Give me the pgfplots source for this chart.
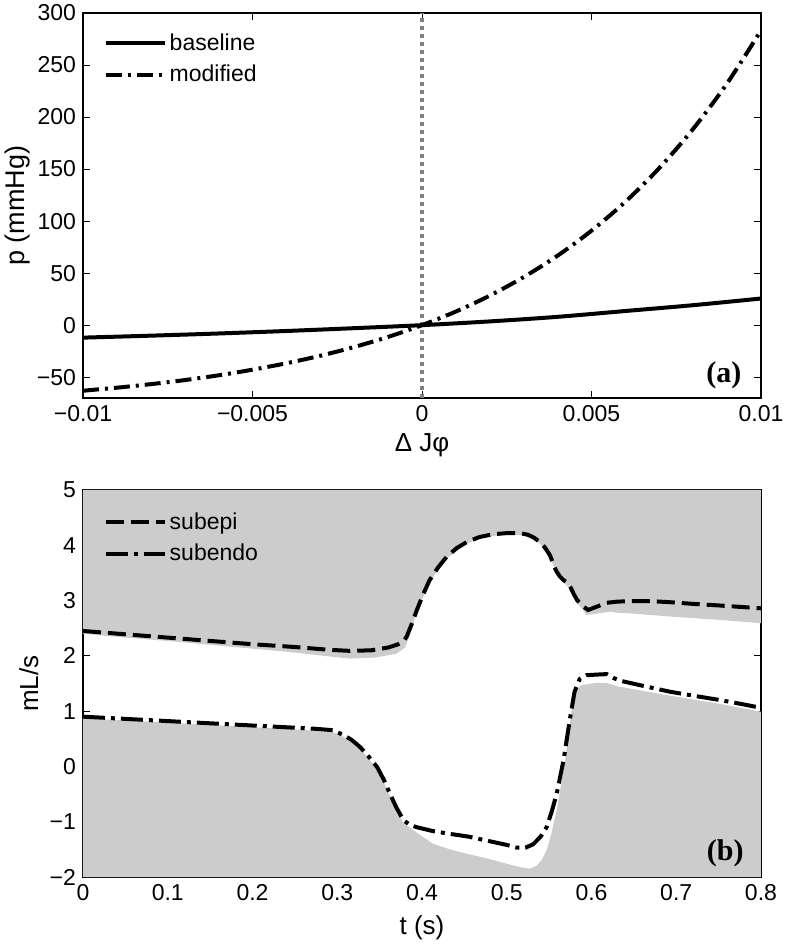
\documentclass[border=0pt]{standalone}
\usepackage{fontspec}
\setmainfont{Liberation Sans}
\newfontfamily\serifbold{Liberation Serif}
\usepackage{pgfplots}
\pgfplotsset{compat=1.18}
\definecolor{areagray}{RGB}{204,204,204}
\definecolor{dotgray}{RGB}{128,128,128}
\pgfplotsset{
 longleg/.style={legend image code/.code={\draw[##1] (0pt,0pt) -- (29.5pt,0pt);}},
 myax/.style={
  scale only axis, width=339pt,
  tick align=inside, major tick length=3.5pt,
  axis line style={line width=0.6pt},
  every tick/.style={black, line width=0.5pt},
  tick label style={font=\fontsize{11.5}{13}\selectfont},
  label style={font=\fontsize{13}{15}\selectfont},
  scaled x ticks=false, scaled y ticks=false,
  legend cell align=left,
  legend style={draw=none, fill=none, font=\fontsize{11.5}{13}\selectfont,
    nodes={font=\fontsize{11.5}{13}\selectfont, inner sep=1.5pt}, inner sep=0pt, row sep=3pt, column sep=0pt},
 }
}
\begin{document}
\begin{tikzpicture}[font=\fontsize{11.5}{13}\selectfont]
\path[use as bounding box] (-41.5pt,-35.5pt) rectangle (351.5pt,438.5pt);
% ---------- panel (a)
\begin{axis}[myax, at={(0pt,239.5pt)}, anchor=south west, height=192.5pt,
  xmin=-0.01, xmax=0.01, ymin=-70, ymax=300,
  xtick={-0.01,-0.005,0,0.005,0.01}, xticklabels={−0.01,−0.005,0,0.005,0.01},
  ytick={-50,0,50,100,150,200,250,300}, yticklabels={−50,0,50,100,150,200,250,300},
  xlabel={Δ Jφ}, ylabel={p (mmHg)},
  xlabel style={at={(axis description cs:0.5,-0.122)}, anchor=center},
  ylabel style={at={(axis description cs:-0.096,0.5)}, anchor=center, font=\fontsize{13.5}{15}\selectfont},
  legend style={at={(0.03,0.956)}, anchor=north west}]
\addplot[dotgray, line width=1.6pt, dash pattern=on 2pt off 2pt, forget plot] coordinates {(0,-70) (0,300)};
\addplot[black, line width=2pt, smooth, longleg] coordinates {
(-0.01,-12.0) (-0.008,-10.1) (-0.006,-8.0) (-0.004,-5.6) (-0.002,-2.9) (0,0)
(0.002,3.6) (0.004,8.0) (0.006,13.6) (0.008,19.2) (0.01,25.6)};
\addlegendentry{baseline}
\addplot[black, line width=2pt, smooth, dash pattern=on 8pt off 3pt on 1.5pt off 3pt, longleg] coordinates {
(-0.01,-63.0) (-0.009,-60.1) (-0.008,-56.7) (-0.007,-52.8) (-0.006,-48.2) (-0.005,-42.8)
(-0.004,-36.6) (-0.003,-29.4) (-0.002,-21.0) (-0.001,-11.3) (0,0)
(0.001,13.1) (0.002,28.4) (0.003,46.2) (0.004,66.8) (0.005,90.8)
(0.006,118.6) (0.007,151.0) (0.008,188.7) (0.009,232.4) (0.01,283.2)};
\addlegendentry{modified}
\node[anchor=east, inner sep=0pt, font={\fontsize{15}{16}\serifbold\bfseries}] at (rel axis cs:0.9715,0.06) {(a)};
\end{axis}
% ---------- panel (b)
\begin{axis}[myax, at={(0pt,0pt)}, anchor=south west, height=193.5pt,
  xmin=0, xmax=0.8, ymin=-2, ymax=5,
  xtick={0,0.1,0.2,0.3,0.4,0.5,0.6,0.7,0.8}, xticklabels={0,0.1,0.2,0.3,0.4,0.5,0.6,0.7,0.8},
  ytick={-2,-1,0,1,2,3,4,5}, yticklabels={−2,−1,0,1,2,3,4,5},
  xlabel={t (s)}, ylabel={mL/s},
  xlabel style={at={(axis description cs:0.5,-0.132)}, anchor=center},
  ylabel style={at={(axis description cs:-0.080,0.5)}, anchor=center},
  legend style={at={(0.03,0.951)}, anchor=north west}]
\addplot[fill=areagray, draw=none, forget plot] coordinates {
(0,2.40) (0.05,2.33) (0.10,2.27) (0.15,2.20) (0.20,2.13) (0.25,2.06) (0.29,1.99) (0.315,1.95)
(0.345,1.97) (0.370,2.04) (0.380,2.15) (0.386,2.40) (0.394,2.80) (0.409,3.34) (0.429,3.76)
(0.453,4.03) (0.47,4.13) (0.484,4.17) (0.50,4.19) (0.516,4.19) (0.53,4.13) (0.539,4.03)
(0.551,3.79) (0.559,3.49) (0.567,3.33) (0.575,3.21) (0.583,2.96) (0.594,2.74) (0.605,2.76)
(0.622,2.80) (0.630,2.78) (0.645,2.77) (0.693,2.71) (0.752,2.65) (0.80,2.59) (0.80,5) (0,5)};
\addplot[fill=areagray, draw=none, forget plot] coordinates {
(0,0.87) (0.05,0.83) (0.10,0.79) (0.15,0.75) (0.20,0.71) (0.25,0.67) (0.27,0.65) (0.295,0.62)
(0.307,0.54) (0.327,0.32) (0.347,-0.04) (0.362,-0.52) (0.378,-1.02) (0.394,-1.20) (0.413,-1.40)
(0.433,-1.50) (0.453,-1.58) (0.476,-1.66) (0.50,-1.76) (0.515,-1.82) (0.527,-1.85) (0.535,-1.80)
(0.541,-1.70) (0.547,-1.52) (0.553,-1.20) (0.559,-0.79) (0.569,0.11) (0.579,1.32) (0.588,1.47)
(0.605,1.51) (0.618,1.51) (0.630,1.45) (0.693,1.28) (0.752,1.13) (0.80,0.99) (0.80,-2) (0,-2)};
\addplot[black, line width=2pt, dash pattern=on 9pt off 3.5pt, longleg] coordinates {
(0,2.45) (0.05,2.39) (0.10,2.33) (0.15,2.27) (0.20,2.21) (0.25,2.16) (0.29,2.11) (0.315,2.09)
(0.34,2.10) (0.36,2.15) (0.372,2.21) (0.378,2.26) (0.382,2.35) (0.388,2.58) (0.394,2.83)
(0.401,3.10) (0.409,3.37) (0.419,3.60) (0.429,3.79) (0.441,3.95) (0.453,4.06) (0.468,4.15)
(0.484,4.20) (0.50,4.22) (0.516,4.22) (0.525,4.19) (0.532,4.14) (0.539,4.06) (0.545,3.96)
(0.551,3.82) (0.556,3.62) (0.559,3.52) (0.563,3.43) (0.567,3.37) (0.571,3.33) (0.575,3.25)
(0.579,3.12) (0.583,3.01) (0.589,2.91) (0.596,2.83) (0.608,2.90) (0.618,2.96) (0.63,2.98)
(0.645,2.99) (0.67,2.99) (0.693,2.97) (0.72,2.94) (0.752,2.91) (0.80,2.86)};
\addlegendentry{subepi}
\addplot[black, line width=2pt, dash pattern=on 11pt off 3pt on 2pt off 3pt, longleg] coordinates {
(0,0.90) (0.05,0.86) (0.10,0.82) (0.15,0.78) (0.20,0.74) (0.25,0.70) (0.275,0.68) (0.295,0.655)
(0.307,0.57) (0.317,0.48) (0.327,0.35) (0.337,0.18) (0.347,-0.01) (0.355,-0.24) (0.362,-0.49)
(0.370,-0.75) (0.378,-0.97) (0.386,-1.06) (0.394,-1.10) (0.413,-1.17) (0.433,-1.22) (0.455,-1.27)
(0.476,-1.34) (0.50,-1.42) (0.512,-1.47) (0.522,-1.47) (0.531,-1.41) (0.540,-1.27) (0.547,-1.10)
(0.553,-0.82) (0.559,-0.49) (0.567,0.11) (0.575,0.90) (0.580,1.35) (0.586,1.58) (0.594,1.65)
(0.605,1.66) (0.618,1.67) (0.626,1.60) (0.634,1.55) (0.66,1.46) (0.693,1.35) (0.72,1.28)
(0.752,1.20) (0.78,1.12) (0.80,1.06)};
\addlegendentry{subendo}
\node[anchor=east, inner sep=0pt, font={\fontsize{15}{16}\serifbold\bfseries}] at (rel axis cs:0.975,0.06) {(b)};
\end{axis}
\end{tikzpicture}
\end{document}
